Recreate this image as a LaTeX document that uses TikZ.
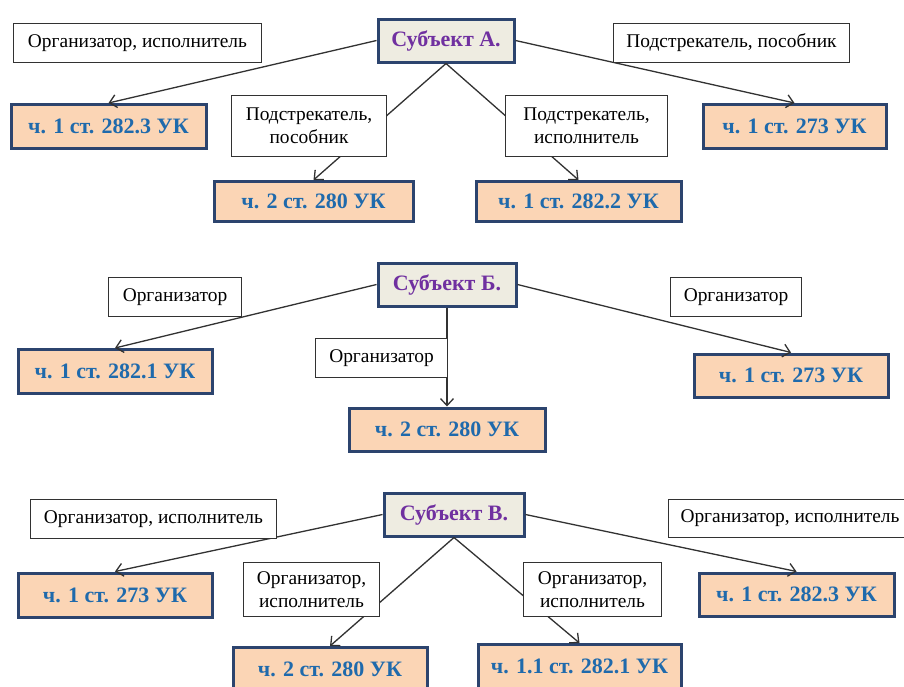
\documentclass[tikz,border=0pt]{standalone}
\usepackage{fontspec}
\setmainfont{Liberation Serif}
\usetikzlibrary{arrows.meta}
\definecolor{subjfill}{RGB}{238,236,225}
\definecolor{subjtext}{RGB}{112,48,160}
\definecolor{artfill}{RGB}{251,213,181}
\definecolor{arttext}{RGB}{31,106,172}
\definecolor{boxborder}{RGB}{44,68,110}
\definecolor{linkgray}{RGB}{50,50,50}

\begin{document}
\begin{tikzpicture}[
    x=1pt, y=-1pt,
    subjbox/.style={rectangle, draw=boxborder, line width=3pt, fill=subjfill, text=subjtext, font=\fontsize{22}{26}\selectfont\bfseries, minimum height=43pt, inner sep=0pt},
    artbox/.style={rectangle, draw=boxborder, line width=3pt, fill=artfill, text=arttext, font=\fontsize{22}{26}\selectfont\bfseries, minimum height=44pt, inner sep=0pt},
    rolebox/.style={rectangle, draw=linkgray, line width=1.1pt, fill=white, font=\fontsize{19.4}{23}\selectfont, align=center, minimum height=39pt, inner sep=0pt},
    link/.style={-{Straight Barb[length=7pt, width=13pt]}, line width=1.3pt, draw=linkgray}
]

% === LAYOUT ===
% Page: 904 x 686, one unit = one pixel of the reference
% Subject A at y=40, Subject B at y=285, Subject C at y=515
% Links are drawn before the role labels, so the labels sit on top of them

\fill[white] (0,0) rectangle (904,686);
\useasboundingbox (0,0) rectangle (904,686);

% Subject A Section
\node[subjbox, minimum width=136pt] (subjA) at (446,40.5) {Субъект А.};

\node[artbox, minimum width=195pt] (artA1) at (108.5,126.5) {ч. 1 ст. 282.3 УК};
\node[artbox, minimum width=199pt, minimum height=40pt] (artA2) at (313.5,201.5) {ч. 2 ст. 280 УК};
\node[artbox, minimum width=205pt, minimum height=40pt] (artA3) at (578.5,201.5) {ч. 1 ст. 282.2 УК};
\node[artbox, minimum width=183pt] (artA4) at (794.5,126.5) {ч. 1 ст. 273 УК};

\draw[link] (subjA.west) -- (artA1.north);
\draw[link] (subjA.south) -- (artA2.north);
\draw[link] (subjA.south) -- (artA3.north);
\draw[link] (subjA.east) -- (artA4.north);

\node[rolebox, minimum width=248pt] (roleA1) at (137.5,43) {Организатор, исполнитель};
\node[rolebox, minimum width=155pt, minimum height=61pt] (roleA2) at (309,126) {Подстрекатель,\\пособник};
\node[rolebox, minimum width=162pt, minimum height=61pt] (roleA3) at (586.5,126) {Подстрекатель,\\исполнитель};
\node[rolebox, minimum width=236pt] (roleA4) at (731.5,43) {Подстрекатель, пособник};

% Subject B Section
\node[subjbox, minimum width=138pt] (subjB) at (447,284.5) {Субъект Б.};

\node[artbox, minimum width=194pt] (artB1) at (115,371.5) {ч. 1 ст. 282.1 УК};
\node[artbox, minimum width=196pt, minimum height=43pt] (artB2) at (447,429.5) {ч. 2 ст. 280 УК};
\node[artbox, minimum width=194pt, minimum height=43pt] (artB3) at (791,375.5) {ч. 1 ст. 273 УК};

\draw[link] (subjB.west) -- (artB1.north);
\draw[link] (subjB.south) -- (artB2.north);
\draw[link] (subjB.east) -- (artB3.north);

\node[rolebox, minimum width=133pt] (roleB1) at (175,297) {Организатор};
\node[rolebox, minimum width=132pt] (roleB2) at (381.5,358) {Организатор};
\node[rolebox, minimum width=131pt] (roleB3) at (736,297) {Организатор};

% Subject C Section
\node[subjbox, minimum width=140pt] (subjC) at (454,514.5) {Субъект В.};

\node[artbox, minimum width=194pt] (artC1) at (115,595) {ч. 1 ст. 273 УК};
\node[artbox, minimum width=194pt] (artC2) at (330,669.5) {ч. 2 ст. 280 УК};
\node[artbox, minimum width=203pt] (artC3) at (579.5,666.5) {ч. 1.1 ст. 282.1 УК};
\node[artbox, minimum width=195pt, minimum height=43pt] (artC4) at (796.5,594.5) {ч. 1 ст. 282.3 УК};

\draw[link] (subjC.west) -- (artC1.north);
\draw[link] (subjC.south) -- (artC2.north);
\draw[link] (subjC.south) -- (artC3.north);
\draw[link] (subjC.east) -- (artC4.north);

\node[rolebox, minimum width=246pt] (roleC1) at (153.5,519) {Организатор, исполнитель};
\node[rolebox, minimum width=136pt, minimum height=54pt] (roleC2) at (311.5,589.5) {Организатор,\\исполнитель};
\node[rolebox, minimum width=138pt, minimum height=54pt] (roleC3) at (592.5,589.5) {Организатор,\\исполнитель};
\node[rolebox, minimum width=243pt, minimum height=38pt] (roleC4) at (790,518.5) {Организатор, исполнитель};

\end{tikzpicture}
\end{document}
